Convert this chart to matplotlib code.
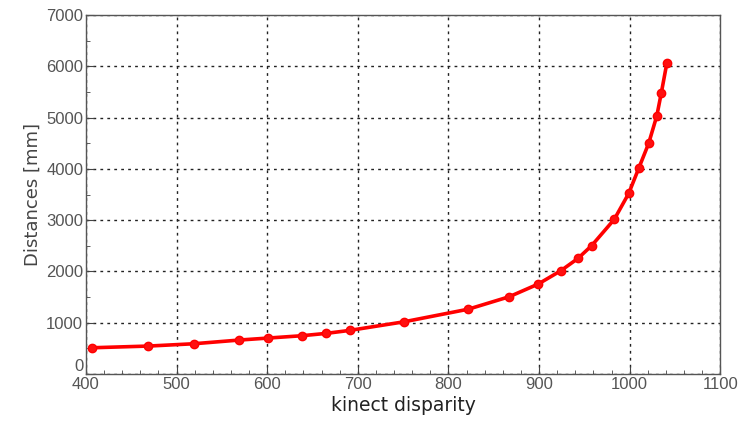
import matplotlib
matplotlib.use("Agg")
import matplotlib.pyplot as plt
from matplotlib.ticker import MultipleLocator

# values
disparity = [407, 469, 519, 569, 601, 638, 665, 691, 751, 822, 867, 899,
             924, 943, 958, 983, 999, 1010, 1021, 1030, 1035, 1041]
distance_mm = [513, 546, 591, 663, 702, 747, 793, 851, 1019, 1265, 1507, 1754,
               2014, 2255, 2502, 3015, 3522, 4010, 4497, 5035, 5484, 6056]

x_ticks = [400, 500, 600, 700, 800, 900, 1000, 1100]
y_ticks = [0, 1000, 2000, 3000, 4000, 5000, 6000, 7000]

fig = plt.figure(figsize=(7.41, 4.28), dpi=100, facecolor="white")
ax = fig.add_axes([0.116, 0.126, 0.856, 0.839])

ax.plot(disparity, distance_mm, color="#ff0000", linewidth=2.6,
        marker="o", markersize=6, markerfacecolor="#ff1010",
        markeredgecolor="#ff0000", zorder=3)

ax.set_xlim(400, 1100)
ax.set_ylim(0, 7000)
ax.set_xticks(x_ticks)
ax.set_yticks(y_ticks)
ax.xaxis.set_minor_locator(MultipleLocator(20))
ax.yaxis.set_minor_locator(MultipleLocator(500))

ax.grid(True, which="major", color="#222222", linestyle=(0, (2, 3)),
        linewidth=1.0)

for side in ax.spines.values():
    side.set_color("#555555")
    side.set_linewidth(1.0)

ax.tick_params(which="both", direction="in", color="#444444")
ax.tick_params(which="major", length=6, labelsize=12, labelcolor="#555555",
               pad=2)
ax.tick_params(which="minor", length=3)
for lab in ax.get_xticklabels() + ax.get_yticklabels():
    lab.set_family("Liberation Sans")

# the "0" sits just above the x axis so it does not run into "400"
ax.yaxis.get_major_ticks()[0].label1.set_verticalalignment("bottom")

ax.set_xlabel("kinect disparity", fontsize=13.5, color="#222222", labelpad=3)
ax.set_ylabel("Distances [mm]", fontsize=13, color="#444444", labelpad=3)

fig.savefig("out.png", dpi=100, facecolor="white")
